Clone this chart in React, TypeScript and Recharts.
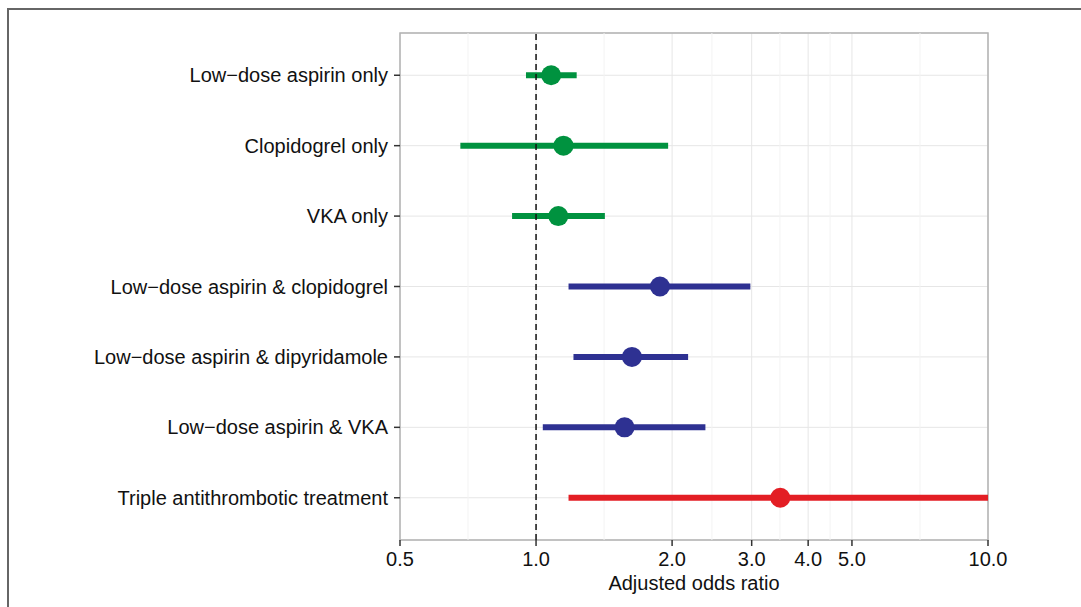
import {
  ComposedChart,
  Scatter,
  ErrorBar,
  XAxis,
  YAxis,
  CartesianGrid,
  ReferenceLine,
  ReferenceArea,
} from "recharts";

const treatments = [
  "Low\u2212dose aspirin only",
  "Clopidogrel only",
  "VKA only",
  "Low\u2212dose aspirin & clopidogrel",
  "Low\u2212dose aspirin & dipyridamole",
  "Low\u2212dose aspirin & VKA",
  "Triple antithrombotic treatment",
];
const oddsRatio = [1.08, 1.15, 1.12, 1.88, 1.63, 1.57, 3.47];
const lowerCI = [0.95, 0.68, 0.885, 1.18, 1.21, 1.035, 1.18];
const upperCI = [1.23, 1.96, 1.42, 2.98, 2.17, 2.37, 10.0];
const groups = ["single", "single", "single", "dual", "dual", "dual", "triple"];

const xTicks = [0.5, 1, 2, 3, 4, 5, 10];
const xMinor = [0.7071, 1.4142, 2.4495, 3.4641, 4.4721, 7.0711];
const rowTicks = [1, 2, 3, 4, 5, 6, 7];

const colors: Record<string, string> = {
  single: "#00923f",
  dual: "#2e3192",
  triple: "#e31e24",
};

const rows = treatments.map((name, i) => ({
  name,
  row: i + 1,
  or: oddsRatio[i],
  err: [oddsRatio[i] - lowerCI[i], upperCI[i] - oddsRatio[i]],
  group: groups[i],
}));

const font = '"Liberation Sans", Arial, Helvetica, sans-serif';

export default function App() {
  return (
    <div style={{ position: "absolute", left: 0, top: 0, width: 1081, height: 607, background: "#fff", overflow: "hidden" }}>
      <div
        style={{
          position: "absolute",
          left: 7,
          top: 8,
          width: 1080,
          height: 620,
          borderTop: "2px solid #666",
          borderLeft: "2px solid #666",
        }}
      />
      <div style={{ position: "absolute", left: 0, top: 0 }}>
        <ComposedChart
          width={1081}
          height={607}
          margin={{ top: 33, right: 93, bottom: 7, left: 0 }}
          style={{ fontFamily: font }}
        >
          <CartesianGrid stroke="#e6e6e6" strokeWidth={1} />
          {xMinor.map((v) => (
            <ReferenceLine key={v} x={v} stroke="#f3f3f3" strokeWidth={1} />
          ))}
          <XAxis
            type="number"
            dataKey="or"
            scale="log"
            domain={[0.5, 10]}
            ticks={xTicks}
            allowDataOverflow
            tickFormatter={(v: number) => v.toFixed(1)}
            axisLine={false}
            tickSize={6}
            tickMargin={6}
            tickLine={{ stroke: "#333", strokeWidth: 1.5 }}
            tick={{ fontSize: 20, fill: "#111", fontFamily: font }}
            height={60}
            label={{
              value: "Adjusted odds ratio",
              position: "insideBottom",
              offset: 10,
              fontSize: 20,
              fill: "#111",
              fontFamily: font,
            }}
          />
          <YAxis
            type="number"
            dataKey="row"
            domain={[0.4, 7.6]}
            reversed
            ticks={rowTicks}
            tickFormatter={(v: number) => treatments[v - 1]}
            axisLine={false}
            width={400}
            tickSize={6}
            tickMargin={6}
            tickLine={{ stroke: "#333", strokeWidth: 1.5 }}
            tick={{ fontSize: 20, fill: "#111", fontFamily: font }}
          />
          <ReferenceArea
            x1={0.5}
            x2={10}
            y1={0.4}
            y2={7.6}
            fill="none"
            fillOpacity={0}
            stroke="#b3b3b3"
            strokeWidth={1.5}
          />
          {["single", "dual", "triple"].map((g) => (
            <Scatter
              key={g}
              data={rows.filter((r) => r.group === g)}
              isAnimationActive={false}
              shape={(p: any) => <circle cx={p.cx} cy={p.cy} r={10} fill={colors[g]} />}
            >
              <ErrorBar
                dataKey="err"
                direction="x"
                width={0}
                stroke={colors[g]}
                strokeWidth={6}
                isAnimationActive={false}
              />
            </Scatter>
          ))}
          <ReferenceLine x={1} stroke="#111" strokeWidth={1.5} strokeDasharray="6 4" />
        </ComposedChart>
      </div>
    </div>
  );
}
